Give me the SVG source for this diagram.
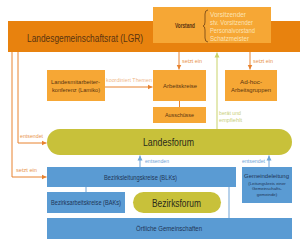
<svg xmlns="http://www.w3.org/2000/svg" width="300" height="244" viewBox="0 0 300 244">
<defs>
<style>
text{font-family:"Liberation Sans","Open Sans",sans-serif;}
.ob{fill:#F6A735;}
.dk{fill:#5a3410;}
.bl{fill:#5A9BD3;}
.nv{fill:#1e3556;}
.ol{fill:#C8C13A;}
.lbo{fill:#E8934A;font-size:5px;}
.lbb{fill:#6FA3D6;font-size:5px;}
.lbg{fill:#C9CF7A;font-size:5px;}
.co{stroke:#E8822E;stroke-width:1;fill:none;}
.cb{stroke:#6FA3D6;stroke-width:1;fill:none;}
.cg{stroke:#C9D36A;stroke-width:1;fill:none;}
.vl{fill:#FCE3B4;font-size:6.5px;}
</style>
<marker id="ao" markerWidth="6" markerHeight="6" refX="5" refY="3" orient="auto" markerUnits="userSpaceOnUse"><path d="M0,0.5 L5,3 L0,5.5 Z" fill="#E8822E"/></marker>
<marker id="ab" markerWidth="6" markerHeight="6" refX="5" refY="3" orient="auto" markerUnits="userSpaceOnUse"><path d="M0,0.5 L5,3 L0,5.5 Z" fill="#6FA3D6"/></marker>
<marker id="ag" markerWidth="6" markerHeight="6" refX="5" refY="3" orient="auto" markerUnits="userSpaceOnUse"><path d="M0,0.5 L5,3 L0,5.5 Z" fill="#C9D36A"/></marker>
</defs>
<rect width="300" height="244" fill="#fff"/>

<g id="lgr">
<rect x="8" y="21" width="292" height="31" fill="#E8820E"/>
<text x="27" y="41.5" font-size="10" class="dk" textLength="116" lengthAdjust="spacingAndGlyphs">Landesgemeinschaftsrat (LGR)</text>
</g>

<g id="vorstand">
<rect x="153" y="7" width="118" height="36" class="ob"/>
<text x="175" y="28" font-size="6.5" font-weight="bold" class="dk" textLength="20" lengthAdjust="spacingAndGlyphs">Vorstand</text>
<path d="M208,10 Q205,10 205,14 L205,22 Q205,26 203,26 Q205,26 205,30 L205,38 Q205,42 208,42" stroke="#5a3410" stroke-width="0.7" fill="none"/>
<text x="210" y="17" class="vl" textLength="36" lengthAdjust="spacingAndGlyphs">Vorsitzender</text>
<text x="210" y="25" class="vl" textLength="43" lengthAdjust="spacingAndGlyphs">stv. Vorsitzender</text>
<text x="210" y="33" class="vl" textLength="45" lengthAdjust="spacingAndGlyphs">Personalvorstand</text>
<text x="210" y="41" class="vl" textLength="39" lengthAdjust="spacingAndGlyphs">Schatzmeister</text>
</g>

<g id="lamiko">
<rect x="47" y="70" width="58" height="31" class="ob"/>
<text x="51" y="84" font-size="6" class="dk" textLength="49" lengthAdjust="spacingAndGlyphs">Landesmitarbeiter-</text>
<text x="52" y="92" font-size="6" class="dk" textLength="48" lengthAdjust="spacingAndGlyphs">konferenz (Lamiko)</text>
</g>

<g id="arbeitskreise">
<rect x="153" y="70" width="53" height="31" class="ob"/>
<text x="163" y="88" font-size="6" class="dk" textLength="34" lengthAdjust="spacingAndGlyphs">Arbeitskreise</text>
</g>

<g id="ausschuesse">
<rect x="153" y="107" width="53" height="16" class="ob"/>
<text x="165" y="117" font-size="6" class="dk" textLength="29" lengthAdjust="spacingAndGlyphs">Ausschüsse</text>
</g>

<g id="adhoc">
<rect x="225" y="70" width="52" height="31" class="ob"/>
<text x="240" y="84" font-size="6" class="dk" textLength="22" lengthAdjust="spacingAndGlyphs">Ad-hoc-</text>
<text x="231" y="92" font-size="6" class="dk" textLength="40" lengthAdjust="spacingAndGlyphs">Arbeitsgruppen</text>
</g>

<g id="landesforum">
<rect x="47" y="129" width="245" height="26" rx="13" class="ol"/>
<text x="143" y="146" font-size="11" fill="#2a2a1a" textLength="51" lengthAdjust="spacingAndGlyphs">Landesforum</text>
</g>

<g id="blks">
<rect x="47" y="167" width="189" height="20" class="bl"/>
<text x="104" y="179.5" font-size="6.5" class="nv" textLength="73" lengthAdjust="spacingAndGlyphs">Bezirksleitungskreise (BLKs)</text>
</g>

<g id="baks">
<rect x="47" y="192" width="78" height="21" class="bl"/>
<text x="51" y="205" font-size="6.5" class="nv" textLength="70" lengthAdjust="spacingAndGlyphs">Bezirksarbeitskreise (BAKs)</text>
</g>

<g id="bezirksforum">
<rect x="133" y="192" width="88" height="21" rx="10.5" class="ol"/>
<text x="152" y="206.5" font-size="10.5" fill="#2a2a1a" textLength="49" lengthAdjust="spacingAndGlyphs">Bezirksforum</text>
</g>

<g id="gemeindeleitung">
<rect x="242" y="167" width="50" height="36" class="bl"/>
<text x="244" y="178" font-size="6" class="nv" textLength="45" lengthAdjust="spacingAndGlyphs">Gemeindeleitung</text>
<text x="267" y="184.5" font-size="4.3" text-anchor="middle" class="nv">(Leitungskreis einer</text>
<text x="267" y="190" font-size="4.3" text-anchor="middle" class="nv">Gemeinschafts-</text>
<text x="267" y="195.5" font-size="4.3" text-anchor="middle" class="nv">gemeinde)</text>
</g>

<g id="oertliche">
<rect x="47" y="218" width="245" height="21" class="bl"/>
<text x="136" y="231" font-size="6.5" class="nv" textLength="66" lengthAdjust="spacingAndGlyphs">Örtliche Gemeinschaften</text>
</g>

<g id="connectors">
<path class="co" d="M179,52 V69.5" marker-end="url(#ao)"/>
<text x="182" y="63" class="lbo" textLength="20" lengthAdjust="spacingAndGlyphs">setzt ein</text>
<path class="co" d="M250,52 V69.5" marker-end="url(#ao)"/>
<text x="253" y="63" class="lbo" textLength="20" lengthAdjust="spacingAndGlyphs">setzt ein</text>
<path class="co" d="M105,87 H152.5" marker-end="url(#ao)"/>
<text x="106" y="82" class="lbo" fill-opacity="0.7" textLength="46" lengthAdjust="spacingAndGlyphs">koordiniert Themen</text>
<path class="co" d="M179.5,101 V107"/>
<path class="co" d="M18,52 V143 H46.5" marker-end="url(#ao)"/>
<text x="20" y="138" class="lbo" textLength="23" lengthAdjust="spacingAndGlyphs">entsendet</text>
<path class="co" d="M12,52 V177 H46.5" marker-end="url(#ao)"/>
<text x="16" y="172" class="lbo" textLength="21" lengthAdjust="spacingAndGlyphs">setzt ein</text>
<path class="cg" d="M217,129 V52.5" marker-end="url(#ag)"/>
<text x="219" y="115" class="lbg" textLength="22" lengthAdjust="spacingAndGlyphs">berät und</text>
<text x="219" y="122" class="lbg" textLength="23" lengthAdjust="spacingAndGlyphs">empfiehlt</text>
<path class="cb" d="M140,167 V155.5" marker-end="url(#ab)"/>
<text x="145" y="163" class="lbb" textLength="24" lengthAdjust="spacingAndGlyphs">entsenden</text>
<path class="cb" d="M269,167 V155.5" marker-end="url(#ab)"/>
<text x="242" y="163" class="lbb" textLength="23" lengthAdjust="spacingAndGlyphs">entsendet</text>
<path class="cb" d="M86,187 V192"/>
<path class="cb" d="M229,187 V218"/>
</g>
</svg>
